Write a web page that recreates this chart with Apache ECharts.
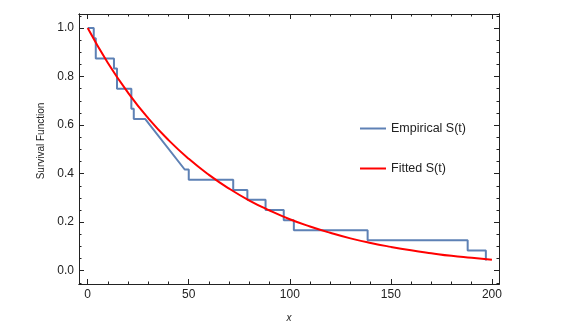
<!DOCTYPE html>
<html>
<head>
<meta charset="utf-8">
<script src="https://cdn.jsdelivr.net/npm/echarts@6/dist/echarts.min.js"></script>
<style>
  html, body { margin: 0; padding: 0; background: #fff; }
  #chart { width: 562px; height: 328px; }
</style>
</head>
<body>
<div id="chart"></div>
<script>
// empirical survival steps (time, S)
const empTime = [0, 3, 3, 4, 4, 13, 13, 14.5, 14.5, 21.6, 21.6, 22.8, 22.8, 28.5, 48, 50, 50, 72, 72, 79, 79, 88, 88, 97, 97, 102, 102, 138.5, 138.5, 188, 188, 197, 197];
const empSurv = [1, 1, 0.958, 0.958, 0.875, 0.875, 0.833, 0.833, 0.75, 0.75, 0.667, 0.667, 0.625, 0.625, 0.417, 0.417, 0.375, 0.375, 0.333, 0.333, 0.292, 0.292, 0.25, 0.25, 0.208, 0.208, 0.167, 0.167, 0.125, 0.125, 0.083, 0.083, 0.042];

// fitted curve read at every 10 units
const fitTime = [0, 10, 20, 30, 40, 50, 60, 70, 80, 90, 100, 110, 120, 130, 140, 150, 160, 170, 180, 190, 200];
const fitSurv = [1.0, 0.856, 0.733, 0.628, 0.538, 0.461, 0.395, 0.338, 0.289, 0.248, 0.212, 0.182, 0.156, 0.133, 0.114, 0.098, 0.084, 0.072, 0.061, 0.053, 0.045];

const xMajor = [0, 50, 100, 150, 200];
const xMinor = [10, 20, 30, 40, 60, 70, 80, 90, 110, 120, 130, 140, 160, 170, 180, 190];
const yMajor = [0, 0.2, 0.4, 0.6, 0.8, 1.0];
const yMinor = [-0.05, 0.05, 0.1, 0.15, 0.25, 0.3, 0.35, 0.45, 0.5, 0.55, 0.65, 0.7, 0.75, 0.85, 0.9, 0.95, 1.05];

const frameColor = '#222';
const font = 'Liberation Sans, Arial, sans-serif';

function xAx(pos, ticks, len, labels) {
  return {
    type: 'value', position: pos, min: -4.3, max: 203.5,
    axisLine: { show: true, onZero: false, lineStyle: { color: frameColor, width: 1 } },
    axisTick: { show: true, inside: true, length: len, customValues: ticks, lineStyle: { color: frameColor } },
    axisLabel: labels
      ? { show: true, customValues: ticks, color: '#222', fontSize: 12, fontFamily: font, margin: 5 }
      : { show: false },
    splitLine: { show: false }
  };
}

function yAx(pos, ticks, len, labels) {
  return {
    type: 'value', position: pos, min: -0.055, max: 1.058,
    axisLine: { show: true, onZero: false, lineStyle: { color: frameColor, width: 1 } },
    axisTick: { show: true, inside: true, length: len, customValues: ticks, lineStyle: { color: frameColor } },
    axisLabel: labels
      ? { show: true, customValues: ticks, color: '#222', fontSize: 12, fontFamily: font, margin: 5,
          formatter: v => v.toFixed(1) }
      : { show: false },
    splitLine: { show: false }
  };
}

const chart = echarts.init(document.getElementById('chart'));

const xAxes = [
  xAx('bottom', xMajor, 5, true),
  xAx('bottom', xMinor, 2.5, false),
  xAx('top', xMajor, 5, false),
  xAx('top', xMinor, 2.5, false)
];
xAxes[0].name = 'x';
xAxes[0].nameLocation = 'middle';
xAxes[0].nameGap = 29;
xAxes[0].nameTextStyle = { fontStyle: 'italic', fontSize: 10, color: '#222', fontFamily: font };

const yAxes = [
  yAx('left', yMajor, 5, true),
  yAx('left', yMinor, 2.5, false),
  yAx('right', yMajor, 5, false),
  yAx('right', yMinor, 2.5, false)
];
yAxes[0].name = 'Survival Function';
yAxes[0].nameLocation = 'middle';
yAxes[0].nameGap = 32;
yAxes[0].nameTextStyle = { fontSize: 10, color: '#222', fontFamily: font, padding: [0, 0, 0, 16] };

chart.setOption({
  animation: false,
  grid: { left: 79, right: 63, top: 14, bottom: 44 },
  xAxis: xAxes,
  yAxis: yAxes,
  legend: {
    orient: 'vertical',
    left: 355, top: 117,
    icon: 'rect',
    itemWidth: 26, itemHeight: 2,
    itemGap: 27,
    textStyle: { fontSize: 12.5, color: '#222', fontFamily: font },
    data: ['Empirical S(t)', 'Fitted S(t)']
  },
  series: [
    {
      name: 'Empirical S(t)',
      type: 'line',
      symbol: 'none',
      lineStyle: { color: '#5E81B5', width: 2 },
      itemStyle: { color: '#5E81B5' },
      data: empTime.map((t, i) => [t, empSurv[i]])
    },
    {
      name: 'Fitted S(t)',
      type: 'line',
      symbol: 'none',
      smooth: true,
      lineStyle: { color: '#FF0000', width: 2 },
      itemStyle: { color: '#FF0000' },
      data: fitTime.map((t, i) => [t, fitSurv[i]])
    }
  ]
});
</script>
</body>
</html>
